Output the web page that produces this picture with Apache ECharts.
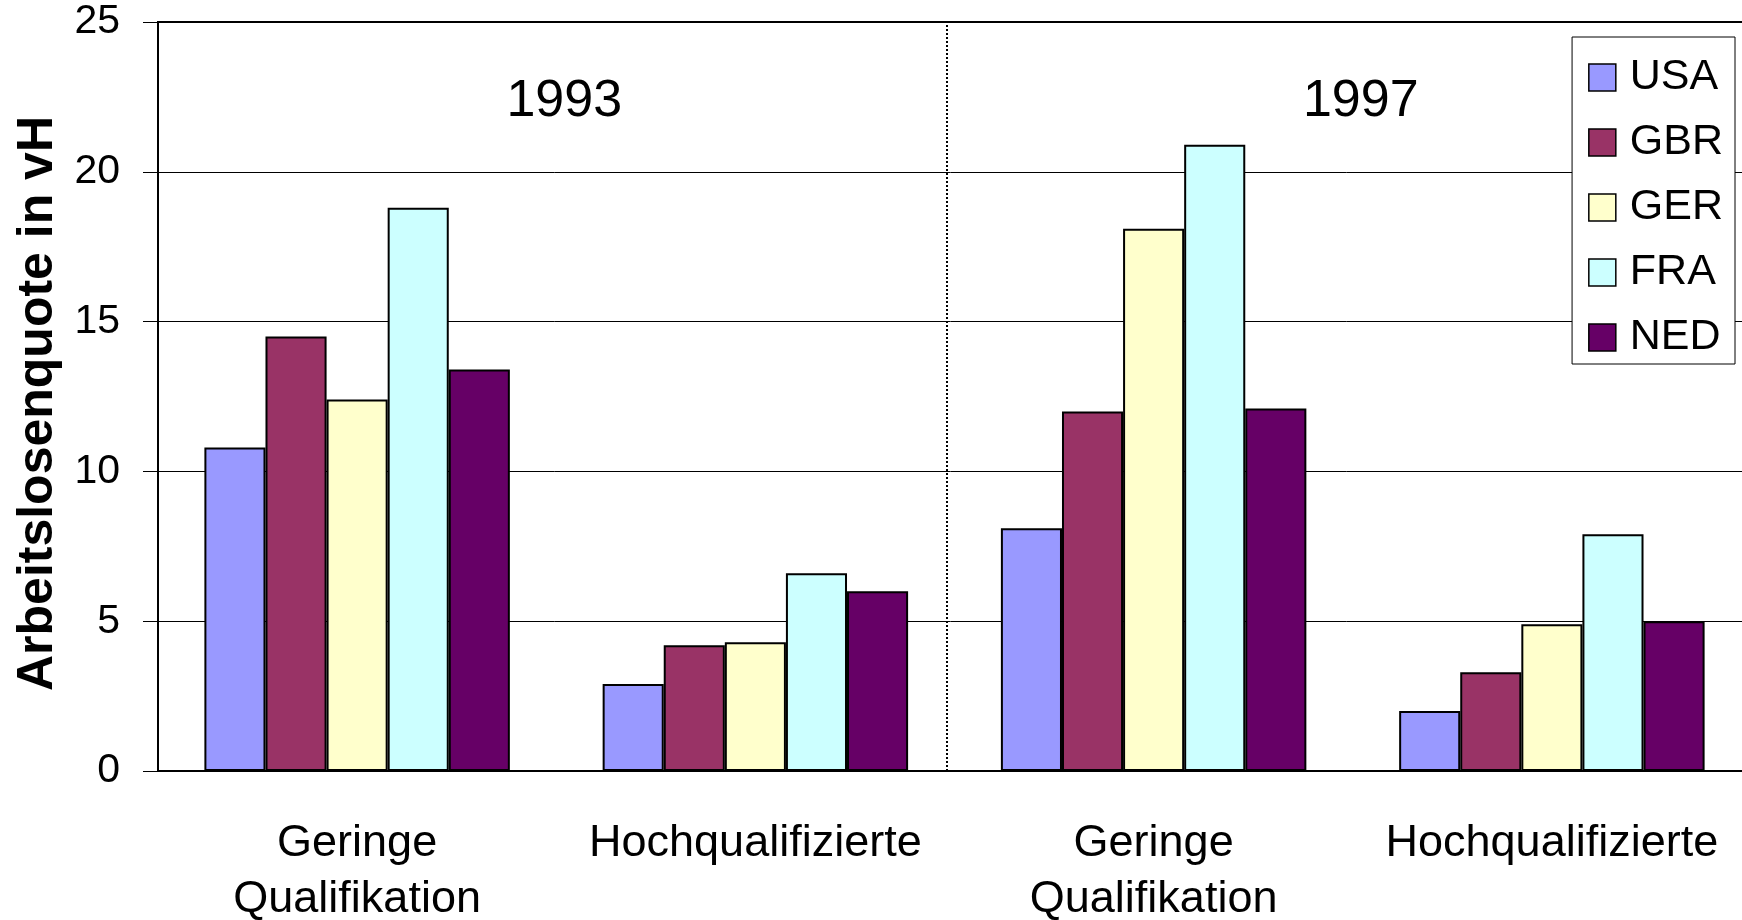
<!DOCTYPE html>
<html>
<head>
<meta charset="utf-8">
<script src="https://cdn.jsdelivr.net/npm/echarts@6/dist/echarts.min.js"></script>
<style>
  html, body { margin: 0; padding: 0; background: #fff; }
  #chart { width: 1742px; height: 920px; }
</style>
</head>
<body>
<div id="chart"></div>
<script>
const categories = ['Geringe\nQualifikation', 'Hochqualifizierte', 'Geringe\nQualifikation', 'Hochqualifizierte'];
const seriesNames = ['USA', 'GBR', 'GER', 'FRA', 'NED'];
const usa = [10.8, 2.9, 8.1, 2.0];
const gbr = [14.5, 4.2, 12.0, 3.3];
const ger = [12.4, 4.3, 18.1, 4.9];
const fra = [18.8, 6.6, 20.9, 7.9];
const ned = [13.4, 6.0, 12.1, 5.0];
const colors = ['#9999ff', '#993366', '#ffffcc', '#ccffff', '#660066'];
const yTicks = [0, 5, 10, 15, 20, 25];
// year headings sit over each pair of groups (position on the 0..4 helper axis)
const yearLabels = [['1993', 1.02, 22.35], ['1997', 3.02, 22.35]];
const dividerAt = 1.98;

const font = '"Liberation Sans", Arial, sans-serif';
const values = [usa, gbr, ger, fra, ned];

const barSeries = seriesNames.map((name, i) => ({
  name,
  type: 'bar',
  xAxisIndex: 0,
  yAxisIndex: 0,
  barGap: '0%',
  barCategoryGap: '23.3%',
  itemStyle: { color: colors[i], borderColor: '#000', borderWidth: 2 },
  emphasis: { disabled: true },
  data: values[i]
}));

const chart = echarts.init(document.getElementById('chart'));
chart.setOption({
  animation: false,
  textStyle: { fontFamily: font, color: '#000' },
  grid: {
    left: 158, right: -9, top: 22, bottom: 149,
    outerBoundsMode: 'none',
    show: true, borderColor: '#000', borderWidth: 2
  },
  legend: {
    data: seriesNames,
    orient: 'vertical',
    right: 7,
    top: 37,
    padding: [19, 12, 5, 16],
    itemGap: 22,
    itemWidth: 27,
    itemHeight: 27,
    icon: 'rect',
    backgroundColor: '#fff',
    borderColor: '#000',
    borderWidth: 1,
    itemStyle: { borderColor: '#000', borderWidth: 1.5 },
    textStyle: { fontSize: 43, color: '#000', fontFamily: font, padding: [0, 0, 0, 9] }
  },
  xAxis: [
    {
      type: 'category',
      data: categories,
      axisLine: { lineStyle: { color: '#000', width: 2 } },
      axisTick: { show: false },
      axisLabel: { interval: 0, fontSize: 45, lineHeight: 56, margin: 45, color: '#000', fontFamily: font }
    },
    { type: 'value', min: 0, max: 4, show: false }
  ],
  yAxis: {
    type: 'value',
    min: yTicks[0],
    max: yTicks[yTicks.length - 1],
    interval: 5,
    name: 'Arbeitslosenquote in vH',
    nameLocation: 'middle',
    nameGap: 90,
    nameTextStyle: { fontSize: 50, fontWeight: 'bold', color: '#000', fontFamily: font, padding: [0, 14, 0, 0] },
    axisLine: { show: true, lineStyle: { color: '#000', width: 2 } },
    axisTick: { show: true, length: 15, lineStyle: { color: '#000', width: 1 } },
    axisLabel: { fontSize: 41, margin: 38, color: '#000', fontFamily: font },
    splitLine: { lineStyle: { color: '#000', width: 1 } }
  },
  series: barSeries.concat([
    {
      type: 'scatter',
      xAxisIndex: 1,
      yAxisIndex: 0,
      symbolSize: 0,
      silent: true,
      itemStyle: { opacity: 1 },
      data: yearLabels.map(d => ({ name: d[0], value: [d[1], d[2]] })),
      label: { show: true, position: 'inside', formatter: p => p.name, fontSize: 52, color: '#000', opacity: 1, fontFamily: font },
      markLine: {
        silent: true,
        symbol: 'none',
        label: { show: false },
        lineStyle: { color: '#000', type: 'dotted', width: 2, opacity: 1 },
        data: [{ xAxis: dividerAt }]
      }
    }
  ])
});
</script>
</body>
</html>
